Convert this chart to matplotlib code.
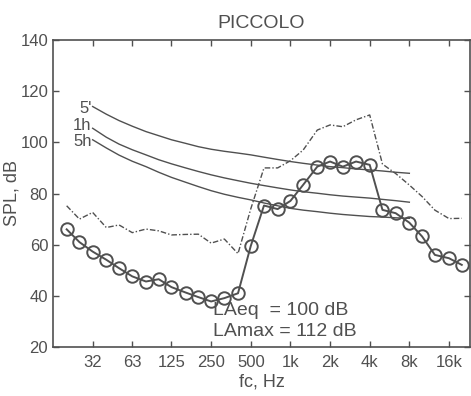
import numpy as np
import matplotlib
matplotlib.use('Agg')
import matplotlib.pyplot as plt

plt.rcParams['font.family'] = ['Liberation Sans', 'DejaVu Sans']

# third-octave band centres
bands = [20, 25, 31.5, 40, 50, 63, 80, 100, 125, 160, 200, 250, 315, 400,
         500, 630, 800, 1000, 1250, 1600, 2000, 2500, 3150, 4000, 5000,
         6300, 8000, 10000, 12500, 16000, 20000]

# LAeq spectrum (circles)
leq = [66, 61, 57.3, 54.1, 50.8, 47.6, 45.6, 46.5, 43.4, 41.3, 39.5, 37.8,
       39.1, 41.0, 59.5, 75.3, 73.9, 77.1, 83.4, 90.5, 92.5, 90.5, 92.5,
       91.2, 73.6, 72.3, 68.6, 63.2, 56.0, 54.7, 52.1]

# LAmax spectrum (dash-dot)
lmax = [75.2, 70.0, 72.6, 66.7, 67.7, 64.7, 66.1, 65.4, 63.8, 64.0, 64.1,
        60.6, 62.2, 56.5, 74, 90, 90, 92.8, 97, 104.8, 106.8, 106.1, 108.8,
        110.7, 91.5, 87.8, 83.3, 78.8, 73.5, 70.2, 70.3]

# limit curves, 31.5 Hz .. 8 kHz
lim_bands = bands[2:27]
lim_5min = [114, 111, 108.5, 106.3, 104.2, 102.6, 101.0, 99.6, 98.3, 97.3,
            96.5, 95.8, 95.1, 94.2, 93.3, 92.5, 91.8, 91.1, 90.5, 90.1,
            89.6, 89.2, 88.8, 88.3, 87.9]
lim_1h = [105.5, 102, 99.3, 97.1, 95.1, 93.2, 91.6, 90.0, 88.6, 87.3, 86.1,
          85.0, 84.0, 83.1, 82.2, 81.4, 80.7, 80.1, 79.5, 79.0, 78.6, 78.2,
          77.7, 77.2, 76.6]
lim_5h = [101, 97.8, 95, 92.6, 90.5, 88.3, 86.3, 84.4, 82.7, 81.1, 79.7,
          78.5, 77.5, 76.3, 75.2, 74.2, 73.5, 72.9, 72.3, 71.8, 71.4, 71.0,
          70.8, 70.5, 70.3]
lim_names = ["5'", "1h", "5h"]
lim_label_y = [113.2, 106.4, 100.3]

tick_pos = [31.5, 63, 125, 250, 500, 1000, 2000, 4000, 8000, 16000]
tick_lab = ['32', '63', '125', '250', '500', '1k', '2k', '4k', '8k', '16k']

col = '#505050'

fig = plt.figure(figsize=(4.71, 3.96), dpi=100)
ax = fig.add_axes([53/471, 49/396, 417/471, 307/396])

ax.plot(bands, lmax, color=col, lw=1.0, ls=(0, (4, 1.5, 1, 1.5)))
for vals in (lim_5min, lim_1h, lim_5h):
    ax.plot(lim_bands, vals, color=col, lw=1.0)
ax.plot(bands, leq, color=col, lw=1.4, marker='o', ms=9, mfc='none',
        mec=col, mew=1.4)

for name, yl in zip(lim_names, lim_label_y):
    ax.text(31, yl, name, ha='right', va='center', fontsize=12,
            color=col)

ax.text(258, 34.1, 'LAeq  = 100 dB', ha='left', va='center', fontsize=14,
        color=col)
ax.text(258, 26.1, 'LAmax = 112 dB', ha='left', va='center', fontsize=14,
        color=col)

ax.set_xscale('log')
ax.set_xlim(15.75, 23100)
ax.set_ylim(20, 140)
ax.set_xticks(tick_pos)
ax.set_xticklabels(tick_lab)
ax.minorticks_off()
ax.set_yticks([20, 40, 60, 80, 100, 120, 140])
ax.tick_params(direction='in', top=True, right=True, labelsize=12,
               colors=col, length=4, width=1)
ax.tick_params(axis='x', pad=6)
for s in ax.spines.values():
    s.set_color(col)
    s.set_linewidth(1.2)

ax.set_xlabel('fc, Hz', fontsize=13, color=col, labelpad=2)
ax.set_ylabel('SPL, dB', fontsize=13, color=col, labelpad=0)
ax.set_title('PICCOLO', fontsize=14, color=col, pad=9)

fig.savefig('out.png', dpi=100)
